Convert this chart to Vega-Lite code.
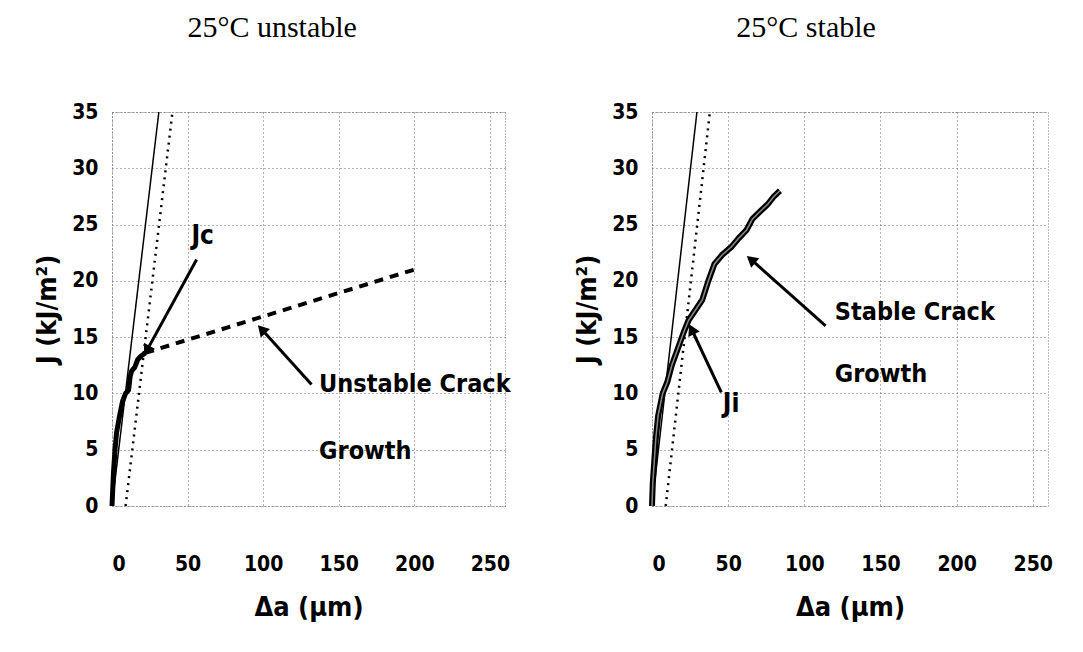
{
  "$schema": "https://vega.github.io/schema/vega-lite/v6.json",
  "autosize": {"type": "pad"},
  "padding": {"left": 33, "top": 12, "right": 4, "bottom": 4},
  "background": "white",
  "datasets": {
    "unstable": [
      {"series": "blunting", "da": 0, "j": 0},
      {"series": "blunting", "da": 31, "j": 35},
      {"series": "offset", "da": 9, "j": 0},
      {"series": "offset", "da": 40, "j": 35},
      {"series": "curve", "da": 0, "j": 0},
      {"series": "curve", "da": 0.5, "j": 1.5},
      {"series": "curve", "da": 1, "j": 3},
      {"series": "curve", "da": 2, "j": 5},
      {"series": "curve", "da": 3, "j": 6.5},
      {"series": "curve", "da": 5, "j": 8},
      {"series": "curve", "da": 7, "j": 9.3},
      {"series": "curve", "da": 9, "j": 10},
      {"series": "curve", "da": 11, "j": 10.3},
      {"series": "curve", "da": 12, "j": 11.5},
      {"series": "curve", "da": 13, "j": 12},
      {"series": "curve", "da": 15, "j": 12.3},
      {"series": "curve", "da": 17, "j": 13},
      {"series": "curve", "da": 19, "j": 13.3},
      {"series": "curve", "da": 22, "j": 13.6},
      {"series": "extension", "da": 22, "j": 13.6},
      {"series": "extension", "da": 200, "j": 21}
    ],
    "stable": [
      {"series": "blunting", "da": 0, "j": 0},
      {"series": "blunting", "da": 29.5, "j": 35},
      {"series": "offset", "da": 9, "j": 0},
      {"series": "offset", "da": 38, "j": 35},
      {"series": "curve", "da": 0, "j": 0},
      {"series": "curve", "da": 0.5, "j": 2},
      {"series": "curve", "da": 1.5, "j": 4},
      {"series": "curve", "da": 2.5, "j": 6},
      {"series": "curve", "da": 4, "j": 8},
      {"series": "curve", "da": 7, "j": 10},
      {"series": "curve", "da": 10, "j": 11},
      {"series": "curve", "da": 13, "j": 12.5},
      {"series": "curve", "da": 17, "j": 14},
      {"series": "curve", "da": 21, "j": 15.5},
      {"series": "curve", "da": 24, "j": 16.5},
      {"series": "curve", "da": 28, "j": 17.3},
      {"series": "curve", "da": 33, "j": 18.3},
      {"series": "curve", "da": 37, "j": 20},
      {"series": "curve", "da": 41, "j": 21.5},
      {"series": "curve", "da": 46, "j": 22.3},
      {"series": "curve", "da": 52, "j": 23},
      {"series": "curve", "da": 57, "j": 23.8},
      {"series": "curve", "da": 62, "j": 24.5},
      {"series": "curve", "da": 66, "j": 25.5},
      {"series": "curve", "da": 72, "j": 26.3},
      {"series": "curve", "da": 76, "j": 26.8},
      {"series": "curve", "da": 80, "j": 27.5},
      {"series": "curve", "da": 84, "j": 28}
    ],
    "unstableArrows": [
      {"label": "Jc", "tail_da": 56, "tail_j": 21.9, "head_da": 23, "head_j": 13.8},
      {"label": "Unstable", "tail_da": 132, "tail_j": 10.8, "head_da": 99, "head_j": 15.7}
    ],
    "stableArrows": [
      {"label": "Stable", "tail_da": 114, "tail_j": 16.0, "head_da": 65, "head_j": 21.9},
      {"label": "Ji", "tail_da": 45.5, "tail_j": 10.1, "head_da": 26, "head_j": 15.7}
    ],
    "unstableNotes": [
      {"text": "Jc", "da": 60, "j": 24, "side": "center"},
      {"text": "Unstable Crack", "da": 137, "j": 10.8, "side": "left"},
      {"text": "Growth", "da": 137, "j": 4.9, "side": "left"}
    ],
    "stableNotes": [
      {"text": "Ji", "da": 52, "j": 9.1, "side": "center"},
      {"text": "Stable Crack", "da": 120, "j": 17.2, "side": "left"},
      {"text": "Growth", "da": 120, "j": 11.7, "side": "left"}
    ]
  },
  "bounds": "flush",
  "spacing": 147,
  "hconcat": [
    {
      "width": 393,
      "height": 394,
      "title": {"text": "25°C unstable"},
      "layer": [
        {
          "data": {"name": "unstable"},
          "transform": [{"filter": "datum.series === 'blunting'"}],
          "mark": {"type": "line", "color": "black", "strokeWidth": 1.5},
          "encoding": {
            "x": {"field": "da", "type": "quantitative", "scale": {"domain": [0, 250]}, "title": "Δa (μm)", "axis": {"values": [0, 50, 100, 150, 200, 250]}},
            "y": {"field": "j", "type": "quantitative", "scale": {"domain": [0, 35]}, "title": "J (kJ/m²)", "axis": {"values": [0, 5, 10, 15, 20, 25, 30, 35]}}
          }
        },
        {
          "data": {"name": "unstable"},
          "transform": [{"filter": "datum.series === 'offset'"}],
          "mark": {"type": "line", "color": "black", "strokeWidth": 2.5, "strokeDash": [2, 5]},
          "encoding": {
            "x": {"field": "da", "type": "quantitative", "title": "Δa (μm)"},
            "y": {"field": "j", "type": "quantitative", "title": "J (kJ/m²)"}
          }
        },
        {
          "data": {"name": "unstable"},
          "transform": [{"filter": "datum.series === 'extension'"}],
          "mark": {"type": "line", "color": "black", "strokeWidth": 4, "strokeDash": [9, 7]},
          "encoding": {
            "x": {"field": "da", "type": "quantitative", "title": "Δa (μm)"},
            "y": {"field": "j", "type": "quantitative", "title": "J (kJ/m²)"}
          }
        },
        {
          "data": {"name": "unstable"},
          "transform": [{"filter": "datum.series === 'curve'"}],
          "mark": {"type": "line", "color": "black", "strokeWidth": 5},
          "encoding": {
            "x": {"field": "da", "type": "quantitative", "title": "Δa (μm)"},
            "y": {"field": "j", "type": "quantitative", "title": "J (kJ/m²)"}
          }
        },
        {
          "data": {"name": "unstableArrows"},
          "mark": {"type": "rule", "color": "black", "strokeWidth": 3},
          "encoding": {
            "x": {"field": "tail_da", "type": "quantitative", "title": "Δa (μm)"},
            "y": {"field": "tail_j", "type": "quantitative", "title": "J (kJ/m²)"},
            "x2": {"field": "head_da"},
            "y2": {"field": "head_j"}
          }
        },
        {
          "data": {"name": "unstableArrows"},
          "transform": [{"filter": "datum.label === 'Jc'"}],
          "mark": {"type": "point", "shape": "triangle-up", "filled": true, "color": "black", "opacity": 1, "size": 160, "angle": 210},
          "encoding": {
            "x": {"field": "head_da", "type": "quantitative", "title": "Δa (μm)"},
            "y": {"field": "head_j", "type": "quantitative", "title": "J (kJ/m²)"}
          }
        },
        {
          "data": {"name": "unstableArrows"},
          "transform": [{"filter": "datum.label === 'Unstable'"}],
          "mark": {"type": "point", "shape": "triangle-up", "filled": true, "color": "black", "opacity": 1, "size": 160, "angle": 317},
          "encoding": {
            "x": {"field": "head_da", "type": "quantitative", "title": "Δa (μm)"},
            "y": {"field": "head_j", "type": "quantitative", "title": "J (kJ/m²)"}
          }
        },
        {
          "data": {"name": "unstableNotes"},
          "transform": [{"filter": "datum.side === 'left'"}],
          "mark": {"type": "text", "align": "left", "baseline": "middle", "font": "Liberation Sans Narrow, DejaVu Sans Condensed, Roboto, sans-serif", "fontWeight": "bold", "fontSize": 25, "color": "black"},
          "encoding": {
            "x": {"field": "da", "type": "quantitative", "title": "Δa (μm)"},
            "y": {"field": "j", "type": "quantitative", "title": "J (kJ/m²)"},
            "text": {"field": "text"}
          }
        },
        {
          "data": {"name": "unstableNotes"},
          "transform": [{"filter": "datum.side === 'center'"}],
          "mark": {"type": "text", "align": "center", "baseline": "middle", "font": "Liberation Sans Narrow, DejaVu Sans Condensed, Roboto, sans-serif", "fontWeight": "bold", "fontSize": 26, "color": "black"},
          "encoding": {
            "x": {"field": "da", "type": "quantitative", "title": "Δa (μm)"},
            "y": {"field": "j", "type": "quantitative", "title": "J (kJ/m²)"},
            "text": {"field": "text"}
          }
        }
      ]
    },
    {
      "width": 396,
      "height": 394,
      "title": {"text": "25°C stable", "dx": -7},
      "layer": [
        {
          "data": {"name": "stable"},
          "transform": [{"filter": "datum.series === 'blunting'"}],
          "mark": {"type": "line", "color": "black", "strokeWidth": 1.5},
          "encoding": {
            "x": {"field": "da", "type": "quantitative", "scale": {"domain": [0, 250]}, "title": "Δa (μm)", "axis": {"values": [0, 50, 100, 150, 200, 250]}},
            "y": {"field": "j", "type": "quantitative", "scale": {"domain": [0, 35]}, "title": "J (kJ/m²)", "axis": {"values": [0, 5, 10, 15, 20, 25, 30, 35]}}
          }
        },
        {
          "data": {"name": "stable"},
          "transform": [{"filter": "datum.series === 'offset'"}],
          "mark": {"type": "line", "color": "black", "strokeWidth": 2.5, "strokeDash": [2, 5]},
          "encoding": {
            "x": {"field": "da", "type": "quantitative", "title": "Δa (μm)"},
            "y": {"field": "j", "type": "quantitative", "title": "J (kJ/m²)"}
          }
        },
        {
          "data": {"name": "stable"},
          "transform": [{"filter": "datum.series === 'curve'"}],
          "mark": {"type": "line", "color": "black", "strokeWidth": 6},
          "encoding": {
            "x": {"field": "da", "type": "quantitative", "title": "Δa (μm)"},
            "y": {"field": "j", "type": "quantitative", "title": "J (kJ/m²)"}
          }
        },
        {
          "data": {"name": "stable"},
          "transform": [{"filter": "datum.series === 'curve'"}],
          "mark": {"type": "line", "color": "#8a8a8a", "strokeWidth": 1.5},
          "encoding": {
            "x": {"field": "da", "type": "quantitative", "title": "Δa (μm)"},
            "y": {"field": "j", "type": "quantitative", "title": "J (kJ/m²)"}
          }
        },
        {
          "data": {"name": "stableArrows"},
          "mark": {"type": "rule", "color": "black", "strokeWidth": 3},
          "encoding": {
            "x": {"field": "tail_da", "type": "quantitative", "title": "Δa (μm)"},
            "y": {"field": "tail_j", "type": "quantitative", "title": "J (kJ/m²)"},
            "x2": {"field": "head_da"},
            "y2": {"field": "head_j"}
          }
        },
        {
          "data": {"name": "stableArrows"},
          "transform": [{"filter": "datum.label === 'Stable'"}],
          "mark": {"type": "point", "shape": "triangle-up", "filled": true, "color": "black", "opacity": 1, "size": 160, "angle": 310},
          "encoding": {
            "x": {"field": "head_da", "type": "quantitative", "title": "Δa (μm)"},
            "y": {"field": "head_j", "type": "quantitative", "title": "J (kJ/m²)"}
          }
        },
        {
          "data": {"name": "stableArrows"},
          "transform": [{"filter": "datum.label === 'Ji'"}],
          "mark": {"type": "point", "shape": "triangle-up", "filled": true, "color": "black", "opacity": 1, "size": 160, "angle": 334},
          "encoding": {
            "x": {"field": "head_da", "type": "quantitative", "title": "Δa (μm)"},
            "y": {"field": "head_j", "type": "quantitative", "title": "J (kJ/m²)"}
          }
        },
        {
          "data": {"name": "stableNotes"},
          "transform": [{"filter": "datum.side === 'left'"}],
          "mark": {"type": "text", "align": "left", "baseline": "middle", "font": "Liberation Sans Narrow, DejaVu Sans Condensed, Roboto, sans-serif", "fontWeight": "bold", "fontSize": 25, "color": "black"},
          "encoding": {
            "x": {"field": "da", "type": "quantitative", "title": "Δa (μm)"},
            "y": {"field": "j", "type": "quantitative", "title": "J (kJ/m²)"},
            "text": {"field": "text"}
          }
        },
        {
          "data": {"name": "stableNotes"},
          "transform": [{"filter": "datum.side === 'center'"}],
          "mark": {"type": "text", "align": "center", "baseline": "middle", "font": "Liberation Sans Narrow, DejaVu Sans Condensed, Roboto, sans-serif", "fontWeight": "bold", "fontSize": 26, "color": "black"},
          "encoding": {
            "x": {"field": "da", "type": "quantitative", "title": "Δa (μm)"},
            "y": {"field": "j", "type": "quantitative", "title": "J (kJ/m²)"},
            "text": {"field": "text"}
          }
        }
      ]
    }
  ],
  "config": {
    "font": "Liberation Sans Narrow, DejaVu Sans Condensed, Roboto, sans-serif",
    "view": {"stroke": "#777", "strokeDash": [1, 2], "strokeWidth": 1},
    "axis": {
      "domain": false,
      "ticks": false,
      "grid": true,
      "gridColor": "#666",
      "gridDash": [1, 3],
      "gridWidth": 1,
      "labelFont": "Liberation Sans Narrow, DejaVu Sans Condensed, Roboto, sans-serif",
      "labelFontWeight": "bold",
      "labelFontSize": 21,
      "labelColor": "black",
      "titleFont": "Liberation Sans Narrow, DejaVu Sans Condensed, Roboto, sans-serif",
      "titleFontWeight": "bold",
      "titleFontSize": 27,
      "titleColor": "black"
    },
    "axisX": {"labelPadding": 47, "titlePadding": 20},
    "axisY": {"labelPadding": 14, "titlePadding": 10},
    "title": {
      "font": "Liberation Serif",
      "fontSize": 30,
      "fontWeight": "normal",
      "color": "black",
      "anchor": "middle",
      "frame": "bounds",
      "baseline": "bottom",
      "offset": 58
    }
  }
}
